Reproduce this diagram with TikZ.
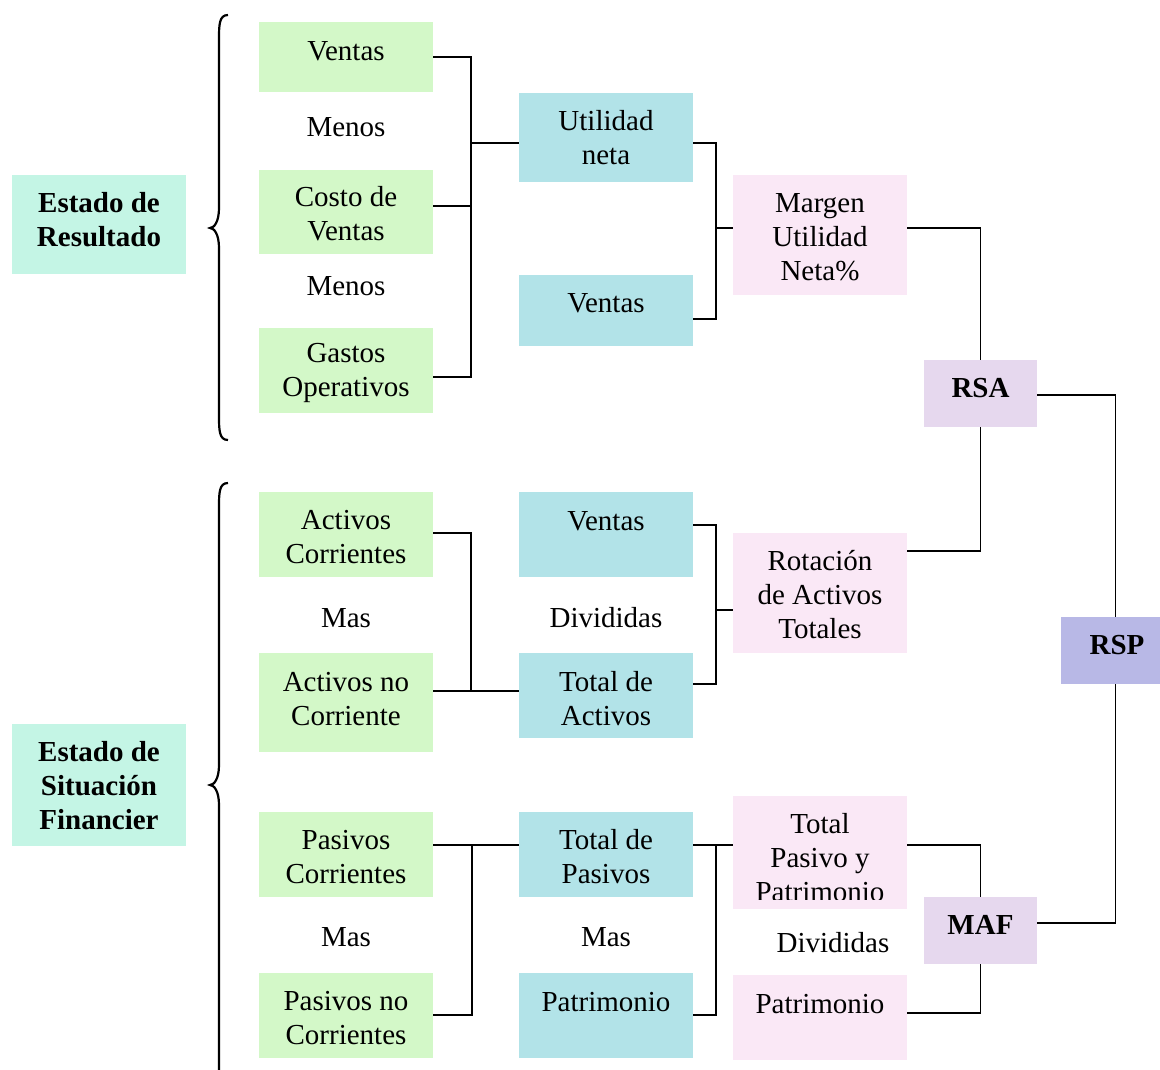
\documentclass[tikz,border=0pt]{standalone}
\usepackage{fontspec}
\setmainfont{Liberation Serif}
\definecolor{mint}{HTML}{C4F5E5}
\definecolor{gbox}{HTML}{D3F8C8}
\definecolor{cbox}{HTML}{B2E3E8}
\definecolor{pbox}{HTML}{FAE8F6}
\definecolor{lbox}{HTML}{E6D8EE}
\definecolor{rbox}{HTML}{B8B8E6}
\begin{document}
\begin{tikzpicture}[x=1pt,y=-1pt,
  box/.style={rectangle, inner sep=0pt, outer sep=0pt, minimum width=174pt, minimum height=#1},
  txt/.style={inner sep=0pt, align=center, font=\fontsize{29}{34}\selectfont},
  btxt/.style={inner sep=0pt, align=center, font=\fontsize{29}{34}\selectfont\bfseries},
  conn/.style={line width=1.8pt},
  brace/.style={line width=2.2pt}]
\useasboundingbox (0,0) rectangle (1160,1070);

% left column
\node[box=99, fill=mint] (er) at (99,224.5) {};
\node[btxt] (ert) at (99,220) {Estado de\\Resultado};
\node[box=122, fill=mint] (es) at (99,785) {};
\node[btxt] (est) at (99,786) {Estado de\\Situación\\Financier};

% braces
\draw[brace] (228,15) .. controls (219,15) and (219,25) .. (219,40) -- (219,208)
  .. controls (219,222) and (214,228) .. (210,228)
  .. controls (214,228) and (219,234) .. (219,248) -- (219,415)
  .. controls (219,430) and (219,440) .. (228,440);
\draw[brace] (228,483) .. controls (219,483) and (219,493) .. (219,508) -- (219,765)
  .. controls (219,779) and (214,785) .. (210,785)
  .. controls (214,785) and (219,791) .. (219,805) -- (219,1080)
  .. controls (219,1095) and (219,1100) .. (228,1100);

% green column
\node[box=70, fill=gbox] (gv) at (346,57) {};
\node[txt] (gvt) at (346,51) {Ventas};
\node[txt] (m1) at (346,127) {Menos};
\node[box=84, fill=gbox] (gc) at (346,212) {};
\node[txt] (gct) at (346,214) {Costo de\\Ventas};
\node[txt] (m2) at (346,286) {Menos};
\node[box=85, fill=gbox] (gg) at (346,370.5) {};
\node[txt] (ggt) at (346,373) {Gastos\\Operativos};
\node[box=85, fill=gbox] (ac) at (346,534.5) {};
\node[txt] (act) at (346,537) {Activos\\Corrientes};
\node[txt] (m3) at (346,618) {Mas};
\node[box=99, fill=gbox] (an) at (346,702.5) {};
\node[txt] (ant) at (346,699) {Activos no\\Corriente};
\node[box=85, fill=gbox] (pc) at (346,854.5) {};
\node[txt] (pct) at (346,857) {Pasivos\\Corrientes};
\node[txt] (m4) at (346,937) {Mas};
\node[box=85, fill=gbox] (pn) at (346,1015.5) {};
\node[txt] (pnt) at (346,1018) {Pasivos no\\Corrientes};

% cyan column
\node[box=89, fill=cbox] (un) at (606,137.5) {};
\node[txt] (unt) at (606,138) {Utilidad\\neta};
\node[box=71, fill=cbox] (cv1) at (606,310.5) {};
\node[txt] (cv1t) at (606,303) {Ventas};
\node[box=85, fill=cbox] (cv2) at (606,534.5) {};
\node[txt] (cv2t) at (606,521) {Ventas};
\node[txt] (d1) at (606,618) {Divididas};
\node[box=85, fill=cbox] (ta) at (606,695.5) {};
\node[txt] (tat) at (606,699) {Total de\\Activos};
\node[box=85, fill=cbox] (tp) at (606,854.5) {};
\node[txt] (tpt) at (606,857) {Total de\\Pasivos};
\node[txt] (m5) at (606,937) {Mas};
\node[box=85, fill=cbox] (cp) at (606,1015.5) {};
\node[txt] (cpt) at (606,1002) {Patrimonio};

% pink column
\node[box=120, fill=pbox] (mu) at (820,235) {};
\node[txt] (mut) at (820,237) {Margen\\Utilidad\\Neta\%};
\node[box=120, fill=pbox] (ro) at (820,593) {};
\node[txt] (rot) at (820,595) {Rotación\\de Activos\\Totales};
\node[box=113, fill=pbox] (tpp) at (820,852.5) {};
\begin{scope}
\clip (733,796) rectangle (907,899);
\node[txt] (tppt) at (820,858) {Total\\Pasivo y\\Patrimonio};
\end{scope}
\node[txt] (d2) at (833,943) {Divididas};
\node[box=85, fill=pbox] (pp) at (820,1017.5) {};
\node[txt] (ppt) at (820,1004) {Patrimonio};

% ratios
\node[box=67, minimum width=113pt, fill=lbox] (rsa) at (980.5,393.5) {};
\node[btxt] (rsat) at (980.5,388) {RSA};
\node[box=67, minimum width=113pt, fill=lbox] (maf) at (980.5,930.5) {};
\node[btxt] (maft) at (980.5,925) {MAF};
\node[box=67, minimum width=109pt, fill=rbox] (rsp) at (1115.5,650.5) {};
\node[btxt] (rspt) at (1117,645) {RSP};

% connectors: income statement
\draw[conn] (gv.east |- 0,57) -- (471,57) -- (471,377) -- (gg.east |- 0,377);
\draw[conn] (gc.east |- 0,206) -- (471,206);
\draw[conn] (471,143) -- (un.west |- 0,143);
\draw[conn] (un.east |- 0,143) -- (716,143) -- (716,319) -- (cv1.east |- 0,319);
\draw[conn] (716,228) -- (mu.west |- 0,228);
\draw[conn] (mu.east |- 0,228) -| (rsa.north);
\draw[conn] (rsa.south) |- (ro.east |- 0,551);
\draw[conn] (rsa.east |- 0,395) -| (rsp.north);
\draw[conn] (rsp.south) |- (maf.east |- 0,923);

% connectors: assets
\draw[conn] (ac.east |- 0,533) -- (471,533) -- (471,691);
\draw[conn] (an.east |- 0,691) -- (ta.west |- 0,691);
\draw[conn] (cv2.east |- 0,525) -- (716,525) -- (716,684) -- (ta.east |- 0,684);
\draw[conn] (716,610) -- (ro.west |- 0,610);

% connectors: liabilities
\draw[conn] (pc.east |- 0,845) -- (tp.west |- 0,845);
\draw[conn] (472,845) -- (472,1015) -- (pn.east |- 0,1015);
\draw[conn] (tp.east |- 0,845) -- (tpp.west |- 0,845);
\draw[conn] (716,845) -- (716,1015) -- (cp.east |- 0,1015);
\draw[conn] (tpp.east |- 0,845) -| (maf.north);
\draw[conn] (maf.south) |- (pp.east |- 0,1013);
\end{tikzpicture}
\end{document}
